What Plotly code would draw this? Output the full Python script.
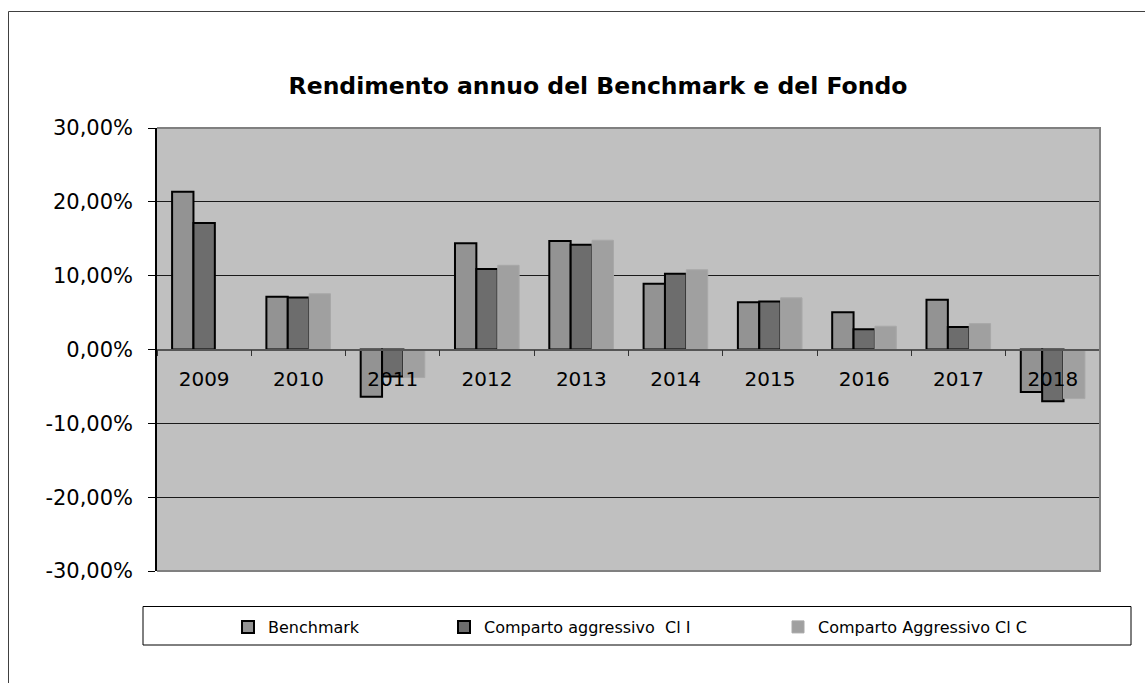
import plotly.graph_objects as go

# ---------------- data ----------------
years = ["2009", "2010", "2011", "2012", "2013", "2014", "2015", "2016", "2017", "2018"]
benchmark = [21.35, 7.15, -6.40, 14.40, 14.70, 8.90, 6.40, 5.05, 6.75, -5.75]
comparto_ci_i = [17.15, 7.05, -3.65, 10.90, 14.20, 10.25, 6.50, 2.75, 3.05, -7.00]
comparto_ci_c = [None, 7.55, -3.80, 11.40, 14.80, 10.80, 7.00, 3.15, 3.50, -6.65]
series_names = ["Benchmark", "Comparto aggressivo  Cl I", "Comparto Aggressivo Cl C"]
y_tickvals = [30, 20, 10, 0, -10, -20, -30]
y_ticktext = ["30,00%", "20,00%", "10,00%", "0,00%", "-10,00%", "-20,00%", "-30,00%"]
title_text = "Rendimento annuo del Benchmark e del Fondo"

# ---------------- layout geometry (pixels) ----------------
W, H = 1145, 683
L, R, T, B = 157, 1100, 128, 571
pw, ph = R - L, B - T


def px_x(x):
    return (x - L) / pw


def px_y(y):
    return (B - y) / ph


FONT = "DejaVu Sans"

fig = go.Figure()
fig.add_trace(go.Bar(
    x=years, y=benchmark, name=series_names[0], legend="legend",
    marker=dict(color="#939393", line=dict(color="#000000", width=2)),
))
fig.add_trace(go.Bar(
    x=years, y=comparto_ci_i, name=series_names[1], legend="legend2",
    marker=dict(color="#6D6D6D", line=dict(color="#000000", width=2)),
))
fig.add_trace(go.Bar(
    x=years, y=comparto_ci_c, name=series_names[2], legend="legend3",
    marker=dict(color="#A0A0A0", line=dict(color="#A8A8A8", width=1)),
))

legend_common = dict(
    orientation="h", yanchor="middle", xanchor="left",
    bgcolor="rgba(0,0,0,0)", borderwidth=0,
    font=dict(family=FONT, size=16, color="#000000"),
    itemwidth=30,
)

fig.update_layout(
    width=W, height=H,
    margin=dict(l=L, r=W - R, t=T, b=H - B, pad=0),
    paper_bgcolor="#FFFFFF",
    plot_bgcolor="#C0C0C0",
    barmode="group",
    bargap=0.32,
    bargroupgap=0,
    showlegend=True,
    title=dict(
        text=title_text, x=598 / W, xanchor="center", y=1 - 86 / H, yanchor="middle",
        font=dict(family=FONT, size=23.5, color="#000000", weight="bold"),
    ),
    legend=dict(x=px_x(228), y=px_y(627), **legend_common),
    legend2=dict(x=px_x(444), y=px_y(627), **legend_common),
    legend3=dict(x=px_x(778), y=px_y(627), **legend_common),
    xaxis=dict(
        type="category",
        anchor="free", position=0.5,
        showline=True, linecolor="#555555", linewidth=1.5,
        ticks="outside", tickson="boundaries", ticklen=6, tickcolor="#333333", tickwidth=1,
        ticklabelstandoff=12,
        showgrid=False, zeroline=False,
        tickfont=dict(family=FONT, size=20, color="#000000"),
        fixedrange=True,
    ),
    yaxis=dict(
        range=[-30, 30],
        tickvals=y_tickvals, ticktext=y_ticktext,
        showline=True, linecolor="#000000", linewidth=1.5,
        ticks="outside", ticklen=7, tickcolor="#000000", tickwidth=1,
        ticklabelstandoff=11,
        showgrid=True, gridcolor="#1A1A1A", gridwidth=1,
        zeroline=False,
        tickfont=dict(family=FONT, size=21, color="#000000"),
        fixedrange=True,
    ),
    shapes=[
        # outer chart frame: left and top edges (right/bottom lie beyond the page)
        dict(type="path", xref="paper", yref="paper",
             path=f"M {px_x(8.5)},{px_y(700)} L {px_x(8.5)},{px_y(11.5)} L {px_x(1160)},{px_y(11.5)}",
             line=dict(color="#404040", width=1), layer="above"),
        # plot area border (top, right, bottom)
        dict(type="path", xref="paper", yref="paper",
             path=f"M {px_x(L)},{px_y(T)} L {px_x(R)},{px_y(T)} L {px_x(R)},{px_y(B)} L {px_x(L)},{px_y(B)}",
             line=dict(color="#808080", width=2), layer="above"),
        # legend box
        dict(type="rect", xref="paper", yref="paper",
             x0=px_x(143), x1=px_x(1131), y0=px_y(606.5), y1=px_y(645),
             line=dict(color="#000000", width=1), fillcolor="rgba(0,0,0,0)", layer="above"),
    ],
)

fig.write_html("out.html")
